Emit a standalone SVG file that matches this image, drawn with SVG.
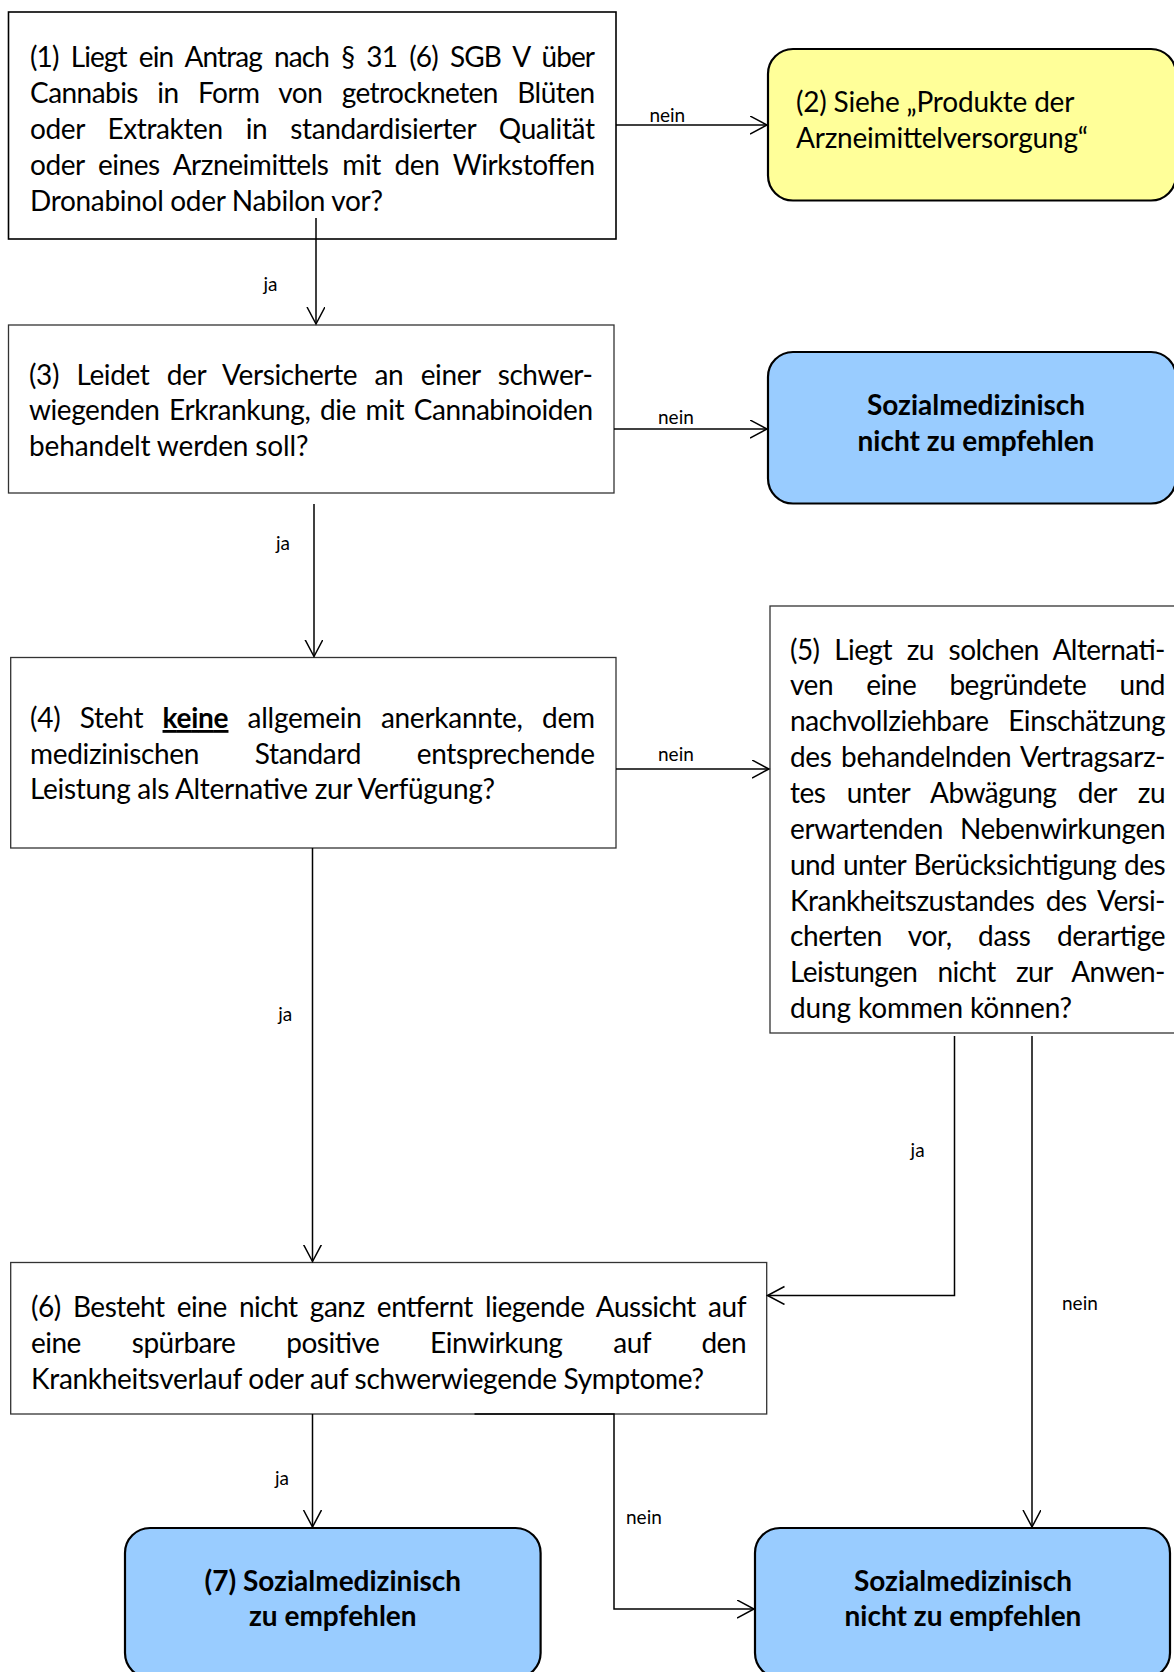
<svg xmlns="http://www.w3.org/2000/svg" width="1174" height="1672" viewBox="0 0 1174 1672">
<defs>
<style>
.t{font-family:Lato,"Liberation Sans",sans-serif;font-size:28px;fill:#000}
.b{font-family:Lato,"Liberation Sans",sans-serif;font-size:28px;font-weight:bold;text-anchor:middle;fill:#000}
.l{font-family:Lato,"Liberation Sans",sans-serif;font-size:19px;fill:#000}
.box{fill:#fff;stroke:#333;stroke-width:1.3}
.rb{stroke:#000;stroke-width:2.2}
.c{fill:none;stroke:#000;stroke-width:1.5}
</style>
<marker id="ah" markerUnits="userSpaceOnUse" markerWidth="20" markerHeight="20" refX="17" refY="9" orient="auto">
<path d="M0,0 L17,9 L0,18" fill="none" stroke="#000" stroke-width="1.5"/>
</marker>
</defs>
<rect width="1174" height="1672" fill="#fff"/>

<g id="n1">
<rect class="box" x="8.5" y="12" width="607.5" height="227" style="stroke:#000;stroke-width:1.6"/>
<text class="t" x="30" y="66.5" word-spacing="6" textLength="565" lengthAdjust="spacing">(1) Liegt ein Antrag nach § 31 (6) SGB V über</text>
<text class="t" x="30" y="102.5" word-spacing="12.8" textLength="565" lengthAdjust="spacing">Cannabis in Form von getrockneten Blüten</text>
<text class="t" x="30" y="138.5" word-spacing="16.3" textLength="565" lengthAdjust="spacing">oder Extrakten in standardisierter Qualität</text>
<text class="t" x="30" y="174.5" word-spacing="7.1" textLength="565" lengthAdjust="spacing">oder eines Arzneimittels mit den Wirkstoffen</text>
<text class="t" x="30" y="210.5" textLength="353" lengthAdjust="spacing">Dronabinol oder Nabilon vor?</text>
</g>

<g id="n2">
<rect x="768" y="49" width="408" height="151.5" rx="25" fill="#ffff99" class="rb"/>
<text class="t" x="796" y="112" textLength="278.4" lengthAdjust="spacing">(2) Siehe „Produkte der</text>
<text class="t" x="796" y="147.5" textLength="292" lengthAdjust="spacing">Arzneimittelversorgung“</text>
</g>

<g id="n3">
<rect class="box" x="8.5" y="325" width="605.5" height="168"/>
<text class="t" x="29" y="384.5" word-spacing="10.6" textLength="564" lengthAdjust="spacing">(3) Leidet der Versicherte an einer schwer-</text>
<text class="t" x="29" y="420" word-spacing="3" textLength="564" lengthAdjust="spacing">wiegenden Erkrankung, die mit Cannabinoiden</text>
<text class="t" x="29" y="455.5" textLength="279.5" lengthAdjust="spacing">behandelt werden soll?</text>
</g>

<g id="n3no">
<rect x="768" y="352" width="408" height="151.5" rx="25" fill="#99ccff" class="rb"/>
<text class="b" x="976" y="415">Sozialmedizinisch</text>
<text class="b" x="976" y="450.5">nicht zu empfehlen</text>
</g>

<g id="n4">
<rect class="box" x="10.7" y="657.5" width="605.3" height="190.5"/>
<text class="t" x="30" y="728" word-spacing="12.5" textLength="565" lengthAdjust="spacing">(4) Steht <tspan font-weight="bold" text-decoration="underline">keine</tspan> allgemein anerkannte, dem</text>
<text class="t" x="30" y="763.5" word-spacing="48.8" textLength="565" lengthAdjust="spacing">medizinischen Standard entsprechende</text>
<text class="t" x="30" y="799" textLength="465" lengthAdjust="spacing">Leistung als Alternative zur Verfügung?</text>
</g>

<g id="n5">
<rect class="box" x="770" y="606" width="410" height="427"/>
<text class="t" x="790" y="659.5" word-spacing="8.1" textLength="375.5" lengthAdjust="spacing">(5) Liegt zu solchen Alternati-</text>
<text class="t" x="790" y="695.4" word-spacing="26.4" textLength="375.5" lengthAdjust="spacing">ven eine begründete und</text>
<text class="t" x="790" y="731.2" word-spacing="12.6" textLength="375.5" lengthAdjust="spacing">nachvollziehbare Einschätzung</text>
<text class="t" x="790" y="767" word-spacing="2.7" textLength="375.5" lengthAdjust="spacing">des behandelnden Vertragsarz-</text>
<text class="t" x="790" y="802.9" word-spacing="14.9" textLength="375.5" lengthAdjust="spacing">tes unter Abwägung der zu</text>
<text class="t" x="790" y="838.8" word-spacing="10.3" textLength="375.5" lengthAdjust="spacing">erwartenden Nebenwirkungen</text>
<text class="t" x="790" y="874.6" word-spacing="1.2" textLength="375.5" lengthAdjust="spacing">und unter Berücksichtigung des</text>
<text class="t" x="790" y="910.5" word-spacing="4.7" textLength="375.5" lengthAdjust="spacing">Krankheitszustandes des Versi-</text>
<text class="t" x="790" y="946.3" word-spacing="19.6" textLength="375.5" lengthAdjust="spacing">cherten vor, dass derartige</text>
<text class="t" x="790" y="982.2" word-spacing="13.5" textLength="375.5" lengthAdjust="spacing">Leistungen nicht zur Anwen-</text>
<text class="t" x="790" y="1018" textLength="282" lengthAdjust="spacing">dung kommen können?</text>
</g>

<g id="n6">
<rect class="box" x="10.7" y="1262.5" width="756" height="151.5"/>
<text class="t" x="31" y="1317" word-spacing="5.5" textLength="715.5" lengthAdjust="spacing">(6) Besteht eine nicht ganz entfernt liegende Aussicht auf</text>
<text class="t" x="31" y="1353" word-spacing="44.2" textLength="715.5" lengthAdjust="spacing">eine spürbare positive Einwirkung auf den</text>
<text class="t" x="31" y="1389" textLength="673" lengthAdjust="spacing">Krankheitsverlauf oder auf schwerwiegende Symptome?</text>
</g>

<g id="n7">
<rect x="125" y="1528" width="415.6" height="150" rx="25" fill="#99ccff" class="rb"/>
<text class="b" x="332.8" y="1590.5">(7) Sozialmedizinisch</text>
<text class="b" x="332.8" y="1626">zu empfehlen</text>
</g>

<g id="n6no">
<rect x="755" y="1528" width="415" height="150" rx="25" fill="#99ccff" class="rb"/>
<text class="b" x="963" y="1590.5">Sozialmedizinisch</text>
<text class="b" x="963" y="1626">nicht zu empfehlen</text>
</g>

<g id="connectors">
<path class="c" d="M616,125 H767" marker-end="url(#ah)"/>
<path class="c" d="M316,218 V324" marker-end="url(#ah)"/>
<path class="c" d="M614,429 H767" marker-end="url(#ah)"/>
<path class="c" d="M314,504 V656.5" marker-end="url(#ah)"/>
<path class="c" d="M616,769 H769" marker-end="url(#ah)"/>
<path class="c" d="M312.5,848 V1261.5" marker-end="url(#ah)"/>
<path class="c" d="M954.5,1036 V1295.5 H767.5" marker-end="url(#ah)"/>
<path class="c" d="M1032,1036 V1527" marker-end="url(#ah)"/>
<path class="c" d="M312.5,1414 V1527" marker-end="url(#ah)"/>
<path class="c" d="M474.5,1414 H614 V1609 H754" marker-end="url(#ah)"/>
<text class="l" x="649.4" y="121.5">nein</text>
<text class="l" x="263.4" y="291">ja</text>
<text class="l" x="658" y="424">nein</text>
<text class="l" x="276" y="550">ja</text>
<text class="l" x="658" y="761">nein</text>
<text class="l" x="278.3" y="1021">ja</text>
<text class="l" x="910.6" y="1157">ja</text>
<text class="l" x="1062" y="1310">nein</text>
<text class="l" x="275" y="1485">ja</text>
<text class="l" x="626" y="1524">nein</text>
</g>
</svg>
